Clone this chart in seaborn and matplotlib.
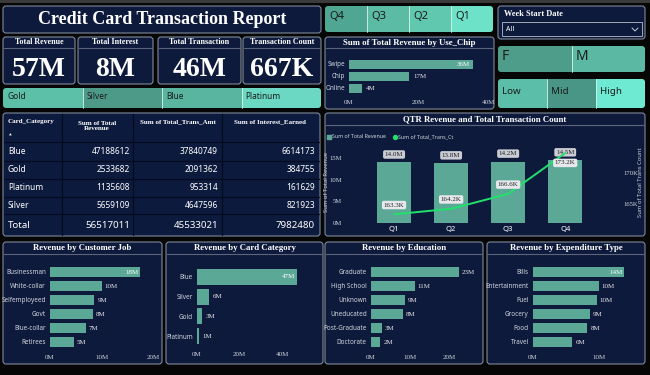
import pandas as pd
import matplotlib
matplotlib.use("Agg")
import matplotlib.pyplot as plt
import seaborn as sns
from matplotlib.patches import FancyBboxPatch, Rectangle
from matplotlib.ticker import FuncFormatter

# ---- data ----
kpi_titles = ["Total Revenue", "Total Interest", "Total Transaction", "Transaction Count"]
kpi_values = ["57M", "8M", "46M", "667K"]

card_slicer = ["Gold", "Silver", "Blue", "Platinum"]
quarter_slicer = ["Q4", "Q3", "Q2", "Q1"]
gender_slicer = ["F", "M"]
income_slicer = ["Low", "Mid", "High"]

table_cats = ["Blue", "Gold", "Platinum", "Silver"]
table_rev = [47188612, 2533682, 1135608, 5659109]
table_amt = [37840749, 2091362, 953314, 4647596]
table_int = [6614173, 384755, 161629, 821923]

chip_types = ["Swipe", "Chip", "Online"]
chip_rev = [35.6, 17.2, 3.6]          # millions

quarters = ["Q1", "Q2", "Q3", "Q4"]
qtr_rev = [14.0, 13.8, 14.2, 14.5]    # millions
qtr_trans = [163.3, 164.2, 166.6, 173.2]  # thousands

jobs = ["Businessman", "White-collar", "Selfemployeed", "Govt", "Blue-collar", "Retirees"]
job_rev = [17.5, 10.0, 8.6, 8.3, 6.9, 4.6]

card_cats = ["Blue", "Silver", "Gold", "Platinum"]
card_rev = [47.19, 5.66, 2.53, 1.14]

edu = ["Graduate", "High School", "Unknown", "Uneducated", "Post-Graduate", "Doctorate"]
edu_rev = [22.6, 11.2, 8.7, 8.2, 2.8, 2.4]

exp_types = ["Bills", "Entertainment", "Fuel", "Grocery", "Food", "Travel"]
exp_rev = [13.8, 9.9, 9.6, 8.6, 8.2, 5.9]

# ---- style ----
W, H = 650, 375
NAVY = "#0d1a3c"
BORDER = "#7f889b"
TEAL = "#5ba897"
GREEN = "#22e06c"
TICK = "#d0d4dc"
SERIF = "Liberation Serif"
SANS = "Noto Sans"

sns.set_theme(style="white")
plt.rcParams["font.family"] = [SANS, "DejaVu Sans"]


def box(x, y, w, h):
    return [x / W, 1 - (y + h) / H, w / W, h / H]


fig = plt.figure(figsize=(6.5, 3.75), dpi=100, facecolor="#060606")
bg = fig.add_axes([0, 0, 1, 1])
bg.set_xlim(0, W)
bg.set_ylim(H, 0)
bg.axis("off")
bg.add_patch(Rectangle((0, 0), W, 3, fc="#3a3a3a", ec="none"))


def panel(x, y, w, h, title=None, sep=None, fc=NAVY):
    p = FancyBboxPatch((x, y), w, h, boxstyle="round,pad=0,rounding_size=3",
                       fc=fc, ec=BORDER, lw=0.8)
    bg.add_patch(p)
    if title:
        bg.text(x + w / 2, y + 6, title, ha="center", va="center", color="white",
                fontsize=6.3, fontweight="bold", family=SERIF)
    if sep:
        bg.plot([x + 1, x + w - 1], [sep, sep], color="#5b6478", lw=0.8)
    return p


def slicer(x, y, w, h, labels, colors, fs):
    outer = FancyBboxPatch((x, y), w, h, boxstyle="round,pad=0,rounding_size=3",
                           fc="none", ec="none")
    bg.add_patch(outer)
    sw = w / len(labels)
    for i, (lab, c) in enumerate(zip(labels, colors)):
        r = Rectangle((x + i * sw, y), sw, h, fc=c, ec="none")
        bg.add_patch(r)
        r.set_clip_path(outer)
        if i > 0:
            bg.plot([x + i * sw] * 2, [y, y + h], color="#d8f5ee", lw=0.6)
        bg.text(x + i * sw + 4, y + h * 0.42, lab, ha="left", va="center",
                color="#1b1b1b", fontsize=fs, fontweight="bold")


def style_axes(ax):
    ax.set_facecolor("none")
    for s in ax.spines.values():
        s.set_visible(False)
    ax.tick_params(length=0, colors=TICK)
    ax.set_xlabel("")
    ax.set_ylabel("")


def hbar(rect, cats, vals, xmax, ticks, width):
    ax = fig.add_axes(box(*rect))
    df = pd.DataFrame({"cat": cats, "val": vals})
    sns.barplot(data=df, x="val", y="cat", orient="h", color=TEAL,
                saturation=1, width=width, linewidth=0, ax=ax)
    style_axes(ax)
    ax.set_xlim(0, xmax)
    ax.set_xticks(ticks)
    ax.xaxis.set_major_formatter(FuncFormatter(lambda v, p: f"{v:.0f}M"))
    for lab in ax.get_xticklabels():
        lab.set_family(SERIF)
        lab.set_fontsize(5)
    for lab in ax.get_yticklabels():
        lab.set_fontsize(4.6)
    ax.tick_params(axis="y", pad=3)
    ax.tick_params(axis="x", pad=4)
    for i, v in enumerate(vals):
        txt = f"{round(v)}M"
        if v / xmax > 0.85:
            ax.text(v - xmax * 0.02, i, txt, ha="right", va="center",
                    color="white", fontsize=5, family=SERIF)
        else:
            ax.text(v + xmax * 0.03, i, txt, ha="left", va="center",
                    color="#e8e8e8", fontsize=5, family=SERIF)
    return ax


# ---- title + KPI cards ----
panel(3, 6, 318, 27)
bg.text(162, 20, "Credit Card Transaction Report", ha="center", va="center",
        color="white", fontsize=13, fontweight="bold", family=SERIF)

kpi_x = [(3, 72), (78, 75), (158, 83), (243, 78)]
for (x, w), t, v in zip(kpi_x, kpi_titles, kpi_values):
    panel(x, 37, w, 47, sep=48)
    bg.text(x + w / 2, 42.5, t, ha="center", va="center", color="white",
            fontsize=5.8, fontweight="bold", family=SERIF)
    bg.text(x + w / 2, 70, v, ha="center", va="center", color="white",
            fontsize=20, fontweight="bold", family=SERIF)

slicer(3, 88, 318, 20, card_slicer, ["#5cc0a8", "#4e9a89", "#5ab5a0", "#6ad8c2"], 6)

# ---- table ----
panel(3, 113, 317, 123, fc="#0c1a3d")
col_lines = [62, 133, 222]
for cx in col_lines:
    bg.plot([cx, cx], [114, 235], color="#050b1e", lw=0.9)
for ry in [142, 161, 179, 197, 214]:
    bg.plot([4, 319], [ry, ry], color="#050b1e", lw=0.9)
bg.text(8, 122, "Card_Category", ha="left", va="center", color="white",
        fontsize=5, fontweight="bold", family=SERIF)
bg.text(10, 135, "▲", ha="center", va="center", color="white", fontsize=2.5)
bg.text(97, 126, "Sum of Total\nRevenue", ha="center", va="center", color="white",
        fontsize=5, fontweight="bold", family=SERIF, linespacing=1.1)
bg.text(178, 122, "Sum of Total_Trans_Amt", ha="center", va="center", color="white",
        fontsize=5, fontweight="bold", family=SERIF)
bg.text(270, 122, "Sum of Interest_Earned", ha="center", va="center", color="white",
        fontsize=5, fontweight="bold", family=SERIF)
row_y = [152, 170, 188, 206]
for yy, c, r, a, it in zip(row_y, table_cats, table_rev, table_amt, table_int):
    bg.text(8, yy, c, ha="left", va="center", color="white", fontsize=6, fontweight="bold")
    bg.text(130, yy, f"{r}", ha="right", va="center", color="white", fontsize=6, fontweight="bold")
    bg.text(218, yy, f"{a}", ha="right", va="center", color="white", fontsize=6, fontweight="bold")
    bg.text(315, yy, f"{it}", ha="right", va="center", color="white", fontsize=6, fontweight="bold")
bg.text(8, 225, "Total", ha="left", va="center", color="white", fontsize=7, fontweight="bold")
bg.text(130, 225, f"{sum(table_rev)}", ha="right", va="center", color="white", fontsize=7, fontweight="bold")
bg.text(218, 225, f"{sum(table_amt)}", ha="right", va="center", color="white", fontsize=7, fontweight="bold")
bg.text(315, 225, f"{sum(table_int)}", ha="right", va="center", color="white", fontsize=7, fontweight="bold")

# ---- right top slicers ----
slicer(325, 6, 168, 26, quarter_slicer, ["#4fa693", "#5bbba5", "#61c8b0", "#6ee2c8"], 8)

panel(498, 6, 147, 33)
bg.text(504, 14, "Week Start Date", ha="left", va="center", color="white",
        fontsize=6, fontweight="bold", family=SERIF)
bg.add_patch(Rectangle((502, 22), 140, 14, fc=NAVY, ec="#a0a8b8", lw=0.7))
bg.text(506, 29.5, "All", ha="left", va="center", color="white", fontsize=5, fontweight="bold")
bg.plot([632, 635, 638], [28, 31, 28], color="#c8ccd4", lw=0.7)

slicer(498, 46, 147, 26, gender_slicer, ["#4e9d8b", "#5bb8a3"], 10)
slicer(498, 79, 147, 29, income_slicer, ["#5bbea8", "#4a9686", "#6eead2"], 7)

# ---- use chip ----
panel(325, 37, 169, 72, title="Sum of Total Revenue by Use_Chip", sep=48)
hbar((349, 58, 139, 36), chip_types, chip_rev, 40, [0, 20, 40], 0.75)

# ---- combo chart ----
panel(325, 113, 320, 123, title="QTR Revenue and Total Transaction Count", sep=125)
bg.scatter([329], [136.5], marker="s", s=6, color=TEAL)
bg.text(332, 136.5, "Sum of Total Revenue", ha="left", va="center", color=TICK, fontsize=3.8)
bg.scatter([395], [136.5], marker="o", s=8, color=GREEN)
bg.text(398, 136.5, "Sum of Total_Trans_Ct", ha="left", va="center", color=TICK, fontsize=3.8)

ax = fig.add_axes(box(345, 140, 267, 83))
df_q = pd.DataFrame({"q": quarters, "rev": qtr_rev})
sns.barplot(data=df_q, x="q", y="rev", color=TEAL, saturation=1, width=0.6,
            linewidth=0, ax=ax)
style_axes(ax)
ax.set_xlim(-0.86, 3.82)
ax.set_ylim(0, 19.2)
ax.set_yticks([0, 5, 10, 15])
ax.yaxis.set_major_formatter(FuncFormatter(lambda v, p: f"{v:.0f}M"))
ax.tick_params(axis="y", pad=2, labelsize=4.8)
ax.tick_params(axis="x", pad=2, labelsize=5.5)
for lab in ax.get_yticklabels():
    lab.set_family(SERIF)
for lab in ax.get_xticklabels():
    lab.set_fontweight("bold")
    lab.set_color("white")
for i, v in enumerate(qtr_rev):
    ax.text(i, v + 1.85, f"{v:.1f}M", ha="center", va="center", fontsize=5,
            family=SERIF, color="#222222",
            bbox=dict(boxstyle="round,pad=0.25", fc="#c9ccd3", ec="none"))

ax2 = ax.twinx()
sns.lineplot(x=list(range(len(quarters))), y=qtr_trans, ax=ax2, color=GREEN, lw=1.4)
style_axes(ax2)
ax2.set_ylim(161.9, 175.3)
ax2.set_yticks([165, 170])
ax2.yaxis.set_major_formatter(FuncFormatter(lambda v, p: f"{v:.0f}K"))
ax2.tick_params(axis="y", pad=8, labelsize=4.8)
for lab in ax2.get_yticklabels():
    lab.set_family(SERIF)
offs = [1.5, 1.5, 1.5, -1.6]
for i, (v, o) in enumerate(zip(qtr_trans, offs)):
    ax2.text(i, v + o, f"{v:.1f}K", ha="center", va="center", fontsize=5,
             family=SERIF, color="#222222",
             bbox=dict(boxstyle="round,pad=0.25", fc="#e6e8ec", ec="none"))
bg.text(327, 182, "Sum of Total Revenue", rotation=90, ha="center", va="center",
        color=TICK, fontsize=4.2)
bg.text(641, 182, "Sum of Total Trans Count", rotation=90, ha="center", va="center",
        color=TICK, fontsize=4.2)

# ---- bottom bar charts ----
panel(3, 242, 159, 122, title="Revenue by Customer Job", sep=254)
hbar((50, 265, 103, 84), jobs, job_rev, 20, [0, 10, 20], 0.75)

panel(166, 242, 157, 122, title="Revenue by Card Category", sep=254)
hbar((197, 267, 117, 79), card_cats, card_rev, 55, [0, 20, 40], 0.8)

panel(325, 242, 158, 122, title="Revenue by Education", sep=254)
hbar((371, 265, 105, 84), edu, edu_rev, 27, [0, 10, 20], 0.75)

panel(487, 242, 158, 122, title="Revenue by Expenditure Type", sep=254)
hbar((533, 265, 106, 84), exp_types, exp_rev, 16, [0, 10], 0.75)

fig.savefig("out.png", dpi=100, facecolor=fig.get_facecolor())
